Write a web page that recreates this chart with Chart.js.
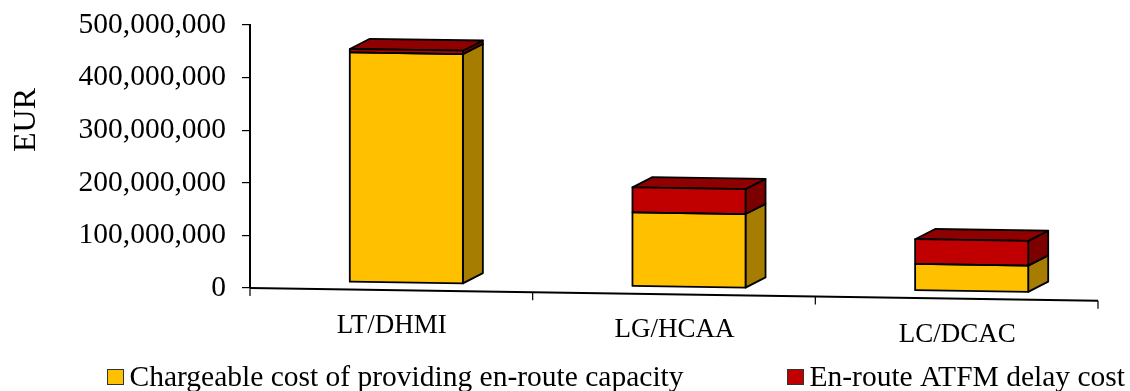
<!DOCTYPE html>
<html>
<head>
<meta charset="utf-8">
<style>
  html, body { margin: 0; padding: 0; background: #fff; }
  #wrap { width: 1130px; height: 391px; }
</style>
</head>
<body>
<div id="wrap"><canvas id="myChart" width="1130" height="391"></canvas></div>
<script src="https://cdn.jsdelivr.net/npm/chart.js@4/dist/chart.umd.min.js"></script>
<script>
"use strict";

// Data
const categories = ["LT/DHMI", "LG/HCAA", "LC/DCAC"];
const capacityCost = [437000000, 141000000, 51000000];
const delayCost = [6500000, 47500000, 47000000];
const capacityLabel = "Chargeable cost of providing en-route capacity";
const delayLabel = "En-route ATFM delay cost";
const axisTitle = "EUR";

// Look of the fake 3D
const serif = '"Liberation Serif", "Times New Roman", serif';
const slope = 0.015;
const depthX = 20;
const depthY = -10.5;
const shiftX = 15;
const shiftY = -7;
const sideColors = ["#A67D00", "#7D0000"];
const topColor = "#8F0000";

function face(ctx, points, color) {
  ctx.beginPath();
  points.forEach((p, i) => (i ? ctx.lineTo(p[0], p[1]) : ctx.moveTo(p[0], p[1])));
  ctx.closePath();
  ctx.fillStyle = color;
  ctx.fill();
  ctx.stroke();
}

// Slants the bars and draws their side and top faces
const slantedBars = {
  id: "slantedBars",
  beforeDatasetsDraw(chart) {
    const ctx = chart.ctx;
    const left = chart.scales.x.left;
    ctx.save();
    ctx.transform(1, slope, 0, 1, shiftX, shiftY - slope * left);
    ctx.strokeStyle = "#000";
    ctx.lineWidth = 1.8;
    ctx.lineJoin = "round";
    chart.data.datasets.forEach((ds, d) => {
      chart.getDatasetMeta(d).data.forEach((bar) => {
        const r = bar.x + bar.width / 2;
        face(ctx, [[r, bar.y], [r + depthX, bar.y + depthY],
          [r + depthX, bar.base + depthY], [r, bar.base]], sideColors[d]);
      });
    });
    chart.getDatasetMeta(chart.data.datasets.length - 1).data.forEach((bar) => {
      const l = bar.x - bar.width / 2;
      const r = bar.x + bar.width / 2;
      face(ctx, [[l, bar.y], [l + depthX, bar.y + depthY],
        [r + depthX, bar.y + depthY], [r, bar.y]], topColor);
    });
  },
  afterDatasetsDraw(chart) {
    const ctx = chart.ctx;
    // outline of the front faces, still inside the slant
    chart.data.datasets.forEach((ds, d) => {
      chart.getDatasetMeta(d).data.forEach((bar) => {
        ctx.strokeRect(bar.x - bar.width / 2, bar.y, bar.width, bar.base - bar.y);
      });
    });
    ctx.restore();
  },
  // Slanted x axis, its labels, the axis title and the legend
  afterDraw(chart) {
    const ctx = chart.ctx;
    const xs = chart.scales.x;
    const ys = chart.scales.y;
    const zero = ys.getPixelForValue(0);
    const slanted = (x) => zero + slope * (x - xs.left);
    ctx.save();
    ctx.strokeStyle = "#000";
    ctx.fillStyle = "#000";
    ctx.lineWidth = 2;
    ctx.beginPath();
    ctx.moveTo(xs.left, slanted(xs.left));
    ctx.lineTo(xs.right, slanted(xs.right));
    ctx.stroke();
    ctx.lineWidth = 1.2;
    ctx.beginPath();
    const step = xs.width / categories.length;
    for (let i = 0; i <= categories.length; i++) {
      const x = xs.left + step * i;
      ctx.moveTo(x, slanted(x));
      ctx.lineTo(x, slanted(x) + 8);
    }
    ctx.stroke();

    ctx.font = "27px " + serif;
    ctx.textAlign = "center";
    ctx.textBaseline = "alphabetic";
    categories.forEach((name, i) => {
      const x = xs.getPixelForValue(i);
      ctx.fillText(name, x + 0.5, slanted(x) + 43);
    });

    ctx.save();
    ctx.translate(35, 120);
    ctx.rotate(-Math.PI / 2);
    ctx.font = "32px " + serif;
    ctx.fillText(axisTitle, 0, 0);
    ctx.restore();

    ctx.textAlign = "left";
    ctx.font = "29.5px " + serif;
    ctx.lineWidth = 1;
    ctx.strokeStyle = "#333";
    [[107.5, capacityLabel, "#FFC000"], [787.5, delayLabel, "#C00000"]].forEach((item) => {
      ctx.fillStyle = item[2];
      ctx.fillRect(item[0], 369.5, 16, 15);
      ctx.strokeRect(item[0], 369.5, 16, 15);
      ctx.fillStyle = "#000";
      ctx.fillText(item[1], item[0] + 22, 386);
    });
    ctx.restore();
  },
};

const chart = new Chart(document.getElementById("myChart"), {
  type: "bar",
  data: {
    labels: categories,
    datasets: [
      { label: capacityLabel, data: capacityCost, backgroundColor: "#FFC000" },
      { label: delayLabel, data: delayCost, backgroundColor: "#C00000" },
    ],
  },
  options: {
    responsive: false,
    animation: false,
    clip: false,
    layout: { padding: { top: 25, bottom: 103, right: 32, left: 0 } },
    datasets: {
      bar: {
        categoryPercentage: 1,
        barPercentage: 0.4,
        borderWidth: 0,
      },
    },
    plugins: {
      legend: { display: false },
      tooltip: { enabled: false },
    },
    scales: {
      x: { display: false, stacked: true },
      y: {
        stacked: true,
        min: 0,
        max: 500000000,
        afterFit(scale) {
          scale.width = 250;
          scale.paddingTop = 0;
          scale.paddingBottom = 0;
        },
        border: { color: "#000", width: 2 },
        grid: { drawOnChartArea: false, color: "#000", lineWidth: 1.2, tickLength: 8 },
        ticks: {
          stepSize: 100000000,
          padding: 16,
          color: "#000",
          font: { family: serif, size: 29.5 },
          callback: (value) => value.toLocaleString("en-US"),
        },
      },
    },
  },
  plugins: [slantedBars],
});
</script>
</body>
</html>
